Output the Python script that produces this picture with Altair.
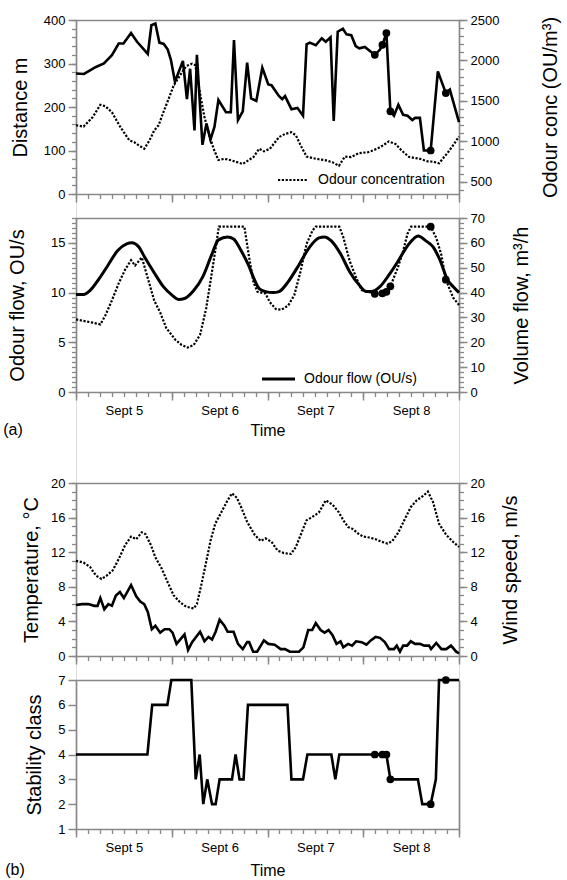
import altair as alt
import pandas as pd

# ---------------- data (hours after Sept 5, 00:00) ----------------
day_names = ["Sept 5", "Sept 6", "Sept 7", "Sept 8"]
panel_tags = ["(a)", "(b)"]

dist_h = [0, 2, 5, 7, 9, 10.7, 11.9, 13.8, 15.3, 18, 18.9, 19.9, 20.9, 22, 23, 23.8, 24.8, 26.8, 27.8, 28.6,
          29.7, 30.3, 31.7, 32.7, 33.7, 34.7, 35.7, 37.6, 38.8, 39.6, 40.6, 41.8, 42.9, 43.9, 45.2, 46.7, 48.2,
          49, 50.9, 51.7, 52.4, 54, 55.5, 56.9, 57.8, 58.6, 60.1, 61.6, 62.6, 63.8, 64.6, 65.6, 66.9, 67.8, 69,
          70.1, 71, 72.4, 73.5, 74.9, 76.2, 76.8, 77.8, 78.8, 79.7, 80.8, 82, 83.1, 84.3, 85, 86.2, 87.2, 88.9,
          90.7, 92.7, 93.7, 96]
dist_m = [277, 276, 292, 300, 319, 346, 346, 370, 350, 322, 388, 392, 348, 345, 332, 308, 258, 306, 218, 288,
          146, 320, 113, 162, 125, 154, 216, 188, 188, 354, 170, 190, 302, 220, 214, 290, 252,
          250, 225, 218, 225, 195, 198, 180, 344, 348, 342, 358, 350, 360, 168, 373, 380, 367, 365,
          340, 335, 338, 330, 320, 332, 343, 370, 190, 180, 205, 182, 180, 170, 175, 175, 100, 100,
          282, 232, 240, 165]

conc_h = [0, 1.9, 4.2, 6.1, 7.3, 9, 11.1, 13.4, 14.6, 15.7, 17.1, 18.4, 19.6, 20.7, 21.9, 23.4, 24.5, 26.1,
          27.6, 29.1, 29.9, 31.1, 32.2, 33.4, 34.5, 35.7, 37.2, 39.1, 41.8, 43.3, 44.5, 45.9, 47.1, 48.6, 50.9,
          52.4, 54, 55.1, 56.3, 57.8, 60.1, 62.4, 64.3, 65.9, 67.4, 68.9, 70.9, 73.2, 75.5, 77, 78.4, 80.1,
          81.6, 83.5, 86.2, 88.1, 89.5, 91, 93, 94.5, 96]
conc_ou = [1199, 1183, 1301, 1452, 1436, 1360, 1178, 1011, 990, 952, 909, 1011, 1135, 1199, 1360, 1549, 1694,
           1817, 1930, 1960, 1941, 1592, 1301, 1076, 909, 769, 785, 764, 720, 770, 807, 909, 877, 909, 1054,
           1092, 1113, 1076, 952, 812, 785, 769, 742, 699, 812, 807, 855, 866, 909, 952, 1000, 968,
           888, 807, 785, 753, 750, 730, 850, 950, 1060]

of_h = [0, 1.9, 3.5, 5.8, 8.1, 10.4, 12.7, 14, 15.7, 17.3, 19.6, 21.9, 24.2, 25.7, 27.2, 29.5, 31.8, 34.1,
        35.7, 38, 39.5, 41.4, 43.3, 44.6, 45.9, 47.5, 49.4, 50.9, 53.2, 55.9, 58.6, 60.9, 62.3, 64, 66.3,
        68.6, 70.9, 72.8, 74, 76.2, 78.5, 80.8, 83.1, 85.8, 87.7, 89.5, 91.2, 93.1, 94.5, 96]
of_ous = [9.8, 9.8, 10.2, 11.4, 12.8, 14.2, 14.9, 15.0, 14.6, 13.5, 12.0, 10.6, 9.7, 9.3, 9.4, 10.2, 11.6, 13.9,
          15.3, 15.6, 15.4, 14.2, 12.7, 11.4, 10.4, 10.1, 10.0, 10.1, 11.1, 12.8, 14.6, 15.5, 15.6, 15.2, 13.9,
          12.1, 10.8, 10.1, 10.1, 10.6, 11.8, 13.2, 14.7, 15.7, 15.2, 14.6, 13.3, 11.3, 10.6, 10.0]

vf_h = [0, 1.9, 4.2, 6.1, 7.3, 8.8, 10.7, 12.3, 13.8, 14.8, 16.5, 18, 19.6, 21.1, 22.6, 24.9, 26.5, 28, 29.5,
        31.1, 32.6, 33.7, 34.9, 35.8, 42.2, 43.3, 44.5, 45.5, 47.5, 48.6, 50.1, 51.5, 53.2, 54.7, 56.3, 57.8,
        59.3, 60.1, 66.0, 67, 68.6, 70.1, 71.6, 73.2, 74.9, 76.8, 77.8, 78.8, 80.8, 82, 83.1, 84.0, 88.9, 90.3,
        91.6, 92.7, 94.5, 96]
vf_m3h = [29.2, 28.6, 27.9, 27.2, 30.6, 36.1, 43.7, 49.2, 53.0, 50.9, 54.1, 45.8, 36.8, 32.0, 25.8, 21.0, 18.9,
          17.9, 18.9, 23.0, 33.4, 44.4, 56.8, 66.5, 66.5, 55.0, 44.0, 40.3, 39.6, 36.1, 33.4, 33.1, 34.8, 38.9,
          48.6, 59.6, 65.0, 66.5, 66.5, 62.3, 52.7, 46.5, 41.0, 40.3, 39.5, 39.7, 40.3, 42.5, 50.6, 56.8, 63.7,
          66.5, 66.5, 62.0, 55.0, 45.2, 38.0, 35.0]

temp_h = [0, 1.9, 3.5, 5, 6.4, 7.7, 9.2, 10.7, 12.3, 13.8, 15.1, 16.5, 17.4, 18.8, 19.9, 21.5, 23, 24.5, 26.1,
          27.6, 29.5, 30.3, 31.4, 32.6, 33.7, 34.9, 36.4, 38, 39.1, 40.3, 41.4, 42.9, 44.8, 46.3, 47.5, 49,
          50.5, 52.1, 53.9, 55.1, 56.4, 57.8, 59, 60.9, 62.6, 64.3, 65.9, 67, 68.2, 69.3, 70.9, 72, 73.5, 75.1,
          76.6, 78.1, 79.3, 80.8, 82.4, 83.9, 85.4, 87, 88.2, 89.5, 91, 92.8, 94.5, 96]
temp_c = [11.0, 10.8, 10.3, 9.3, 8.9, 9.3, 9.9, 11.2, 12.8, 13.8, 13.5, 14.3, 14.1, 12.8, 11.4, 10.1, 8.5, 7.0,
          6.2, 5.7, 5.5, 6.0, 8.2, 10.8, 13.3, 15.3, 16.6, 18.0, 18.8, 18.3, 17.2, 15.5, 14.0, 13.3, 13.6, 13.2,
          12.2, 11.9, 11.8, 12.6, 14.1, 15.7, 16.0, 16.6, 18.0, 17.5, 16.6, 15.7, 14.9, 14.7, 14.1, 13.8, 13.7,
          13.5, 13.2, 13.0, 13.3, 14.3, 15.8, 17.2, 18.0, 18.5, 19.0, 17.8, 15.3, 14.0, 13.2, 12.6]

wind_h = [0, 1.5, 3.1, 4.6, 5.4, 6.1, 7.1, 8.1, 9, 10, 11, 12, 13.8, 15.1, 16.1, 17.1, 18, 19, 19.9, 21.1, 22.2,
          23.4, 24.2, 25.2, 26.1, 27.2, 28.1, 29.1, 31.1, 32.2, 33.2, 34.1, 35, 36, 37.2, 38, 39.5, 40.6, 41.8,
          42.9, 43.4, 44.4, 45.4, 47.1, 48.2, 49.8, 51.3, 52.4, 53.6, 55.9, 57, 58.2, 59.2, 60.1, 61.3, 62.3,
          63.3, 64.3, 65.3, 66.3, 67, 68.2, 69.2, 70.2, 71.6, 72.8, 73.9, 75.1, 76.2, 77.4, 78.5, 79.7, 80.4,
          81.2, 82, 83, 83.9, 85, 86.2, 87.3, 88.5, 89, 90.3, 91.6, 92.8, 94, 95.3, 96]
wind_ms = [5.9, 6.0, 6.0, 5.8, 5.8, 6.7, 5.4, 6.0, 5.8, 7.0, 7.4, 6.7, 8.2, 6.9, 6.3, 6.0, 5.1, 3.1, 3.5, 2.7,
           3.1, 3.1, 2.7, 1.4, 1.9, 2.5, 0.7, 1.6, 2.8, 1.7, 2.2, 1.9, 2.8, 4.2, 3.5, 2.8, 2.8, 1.4, 0.8, 1.6,
           1.6, 0.5, 0.5, 1.8, 1.4, 1.3, 0.8, 0.8, 0.5, 0.5, 1.0, 3.0, 3.0, 3.8, 3.0, 2.7, 3.0, 2.4, 1.4, 1.7,
           1.0, 1.4, 1.2, 1.7, 1.6, 1.3, 1.8, 2.2, 2.1, 1.6, 0.8, 0.8, 1.2, 0.5, 1.2, 1.2, 1.7, 1.4, 1.4, 1.2,
           1.2, 0.8, 1.5, 0.8, 0.8, 1.2, 0.5, 0.3]

stab_h = [0, 17.9, 19.1, 22.9, 23.9, 28.9, 30, 31, 31.9, 32.9, 34.1, 35, 36, 39.1, 40, 41, 42, 43.1, 53, 54,
          56.9, 58, 64, 65, 66, 74.9, 76.8, 77.8, 78.8, 85.7, 86.8, 88.9, 90.2, 91, 92.7, 96]
stab_cls = [4, 4, 6, 6, 7, 7, 3, 4, 2, 3, 2, 2, 3, 3, 4, 3, 3, 6, 6, 3, 3, 4, 4, 3, 4, 4, 4, 4, 3, 3, 2, 2, 3,
            7, 7, 7]

dot_h = [74.9, 76.8, 77.8, 78.8, 88.9, 92.7]
dot_dist = [320, 343, 370, 190, 100, 232]
dot_vf = [39.5, 39.7, 40.3, 42.5, 66.5, 45.2]
dot_stab = [4, 4, 4, 3, 2, 7]

legend_a1 = "Odour concentration"
legend_a2 = "Odour flow  (OU/s)"

# ---------------- layout ----------------
FONT = "Liberation Sans"
W = 383
H = 809
P1 = (0, 174)
P2 = (198, 372)
P3 = (463, 636)
P4 = (660, 809)
DAY_TICKS = [0, 24, 48, 72, 96]
MINOR_X = list(range(0, 97, 3))
LABEL_X = [12, 36, 60, 84]
LABEL_EXPR = " : ".join(f"datum.value == {v} ? '{n}'" for v, n in zip(LABEL_X, day_names)) + " : ''"
DASH = [2.2, 1.6]


def frame(h, v):
    return pd.DataFrame({"h": h, "v": v})


def xsc():
    return alt.Scale(domain=[0, 96], nice=False, zero=False)


def ysc(dom, rng):
    return alt.Scale(domain=dom, range=[rng[1], rng[0]], nice=False, zero=False)


def ax_x_major(rng):
    return alt.Axis(orient="bottom", offset=-(H - rng[1]), values=DAY_TICKS, tickSize=8, tickWidth=1.5,
                    labels=False, domain=True, domainWidth=1.7, grid=False, title=None)


def ax_x_minor(rng):
    return alt.Axis(orient="bottom", offset=-(H - rng[1]), values=MINOR_X, tickSize=4.5, tickWidth=1.3,
                    labels=False, domain=False, grid=False, title=None)


def ax_x_top(rng):
    return alt.Axis(orient="top", offset=-rng[0], ticks=False, labels=False, domain=True, domainWidth=1.7,
                    grid=False, title=None)


def ax_x_labels(rng, title_y):
    return alt.Axis(orient="bottom", offset=-(H - rng[1]), values=LABEL_X, ticks=False, tickSize=0,
                    labelExpr=LABEL_EXPR, labelPadding=12, labelFontSize=13, labelFlush=False,
                    labelOverlap=False, domain=False, grid=False, title="Time", titleFontSize=16,
                    titleFontWeight="normal", titleX=W / 2, titleY=title_y, titleAlign="center",
                    titleBaseline="middle")


def ax_y_major(orient, values, title, title_x, rng):
    return alt.Axis(orient=orient, values=values, format="d", tickSize=8, tickWidth=1.5, labelFontSize=13,
                    labelPadding=3, labelFlush=False, labelOverlap=False, domain=True, domainWidth=1.7,
                    grid=False, title=title, titleFontSize=20, titleFontWeight="normal", titleAngle=270,
                    titleX=title_x, titleY=(rng[0] + rng[1]) / 2, titleAlign="center",
                    titleBaseline="middle")


def ax_y_minor(orient, values):
    return alt.Axis(orient=orient, values=values, tickSize=4.5, tickWidth=1.3, labels=False, domain=False,
                    grid=False, title=None)


def ax_y_frame(orient):
    return alt.Axis(orient=orient, ticks=False, labels=False, domain=True, domainWidth=1.7, grid=False,
                    title=None)


def series(df, dom, rng, xaxis, yaxis, dashed=False, width=2.6, visible=True, interp="linear"):
    kw = dict(color="black", strokeWidth=width, interpolate=interp, opacity=1 if visible else 0)
    if dashed:
        kw["strokeDash"] = DASH
    return alt.Chart(df).mark_line(**kw).encode(
        x=alt.X("h:Q", scale=xsc(), axis=xaxis),
        y=alt.Y("v:Q", scale=ysc(dom, rng), axis=yaxis),
    )


def dots(df, dom, rng):
    return alt.Chart(df).mark_circle(color="black", opacity=1, size=60).encode(
        x=alt.X("h:Q", scale=xsc(), axis=None),
        y=alt.Y("v:Q", scale=ysc(dom, rng), axis=None),
    )


def label(text, x, y, size, align="left"):
    return alt.Chart(pd.DataFrame({"t": [text]})).mark_text(
        font=FONT, fontSize=size, align=align, baseline="middle", color="black"
    ).encode(x=alt.value(x), y=alt.value(y), text="t:N")


def legend_line(x1, x2, y, dashed, width):
    kw = dict(color="black", strokeWidth=width)
    if dashed:
        kw["strokeDash"] = DASH
    return alt.Chart(pd.DataFrame({"k": [0]})).mark_rule(**kw).encode(
        x=alt.value(x1), x2=alt.value(x2), y=alt.value(y))


d_dist = frame(dist_h, dist_m)
d_conc = frame(conc_h, conc_ou)
d_of = frame(of_h, of_ous)
d_vf = frame(vf_h, vf_m3h)
d_temp = frame(temp_h, temp_c)
d_wind = frame(wind_h, wind_ms)
d_stab = frame(stab_h, stab_cls)

DIST_DOM, CONC_DOM = [0, 400], [350, 2500]
OF_DOM, VF_DOM = [0, 17.5], [0, 70]
T_DOM, WS_DOM = [0, 20], [0, 20]
ST_DOM = [1, 7]

layers = [
    # ---- panel 1
    series(d_dist, DIST_DOM, P1, ax_x_major(P1),
           ax_y_major("left", list(range(0, 401, 100)), "Distance  m", -56, P1), width=2.6),
    series(d_dist, DIST_DOM, P1, ax_x_minor(P1), ax_y_minor("left", list(range(0, 401, 20))), visible=False),
    series(d_conc, CONC_DOM, P1, ax_x_top(P1),
           ax_y_major("right", list(range(500, 2501, 500)), "Odour conc  (OU/m³)", 91, P1), dashed=True,
           width=2.2),
    series(d_conc, CONC_DOM, P1, None, ax_y_minor("right", list(range(400, 2501, 100))), visible=False),
    dots(frame(dot_h, dot_dist), DIST_DOM, P1),
    legend_line(202, 232, 160, True, 2.2),
    label(legend_a1, 242, 160, 14),
    # ---- panel 2
    series(d_of, OF_DOM, P2, ax_x_major(P2),
           ax_y_major("left", [0, 5, 10, 15], "Odour flow, OU/s", -59, P2), width=3, interp="monotone"),
    series(d_of, OF_DOM, P2, ax_x_minor(P2), ax_y_minor("left", [i * 0.5 for i in range(36)]), visible=False),
    series(d_vf, VF_DOM, P2, ax_x_top(P2),
           ax_y_major("right", list(range(0, 71, 10)), "Volume flow, m³/h", 62, P2), dashed=True, width=2.2),
    series(d_vf, VF_DOM, P2, ax_x_labels(P2, 38), ax_y_minor("right", list(range(0, 71, 2))), visible=False),
    dots(frame(dot_h, dot_vf), VF_DOM, P2),
    legend_line(186, 219, 359, False, 3),
    label(legend_a2, 228, 359, 14),
    label(panel_tags[0], -63, 410, 16, "center"),
    # ---- panel 3
    series(d_temp, T_DOM, P3, ax_x_major(P3),
           ax_y_major("left", list(range(0, 21, 4)), "Temperature,  °C", -45, P3), dashed=True, width=2.2),
    series(d_temp, T_DOM, P3, ax_x_minor(P3), ax_y_minor("left", list(range(0, 21))), visible=False),
    series(d_wind, WS_DOM, P3, ax_x_top(P3),
           ax_y_major("right", list(range(0, 21, 4)), "Wind speed,  m/s", 51, P3), width=2.6),
    series(d_wind, WS_DOM, P3, None, ax_y_minor("right", list(range(0, 21))), visible=False),
    # ---- panel 4
    series(d_stab, ST_DOM, P4, ax_x_major(P4),
           ax_y_major("left", list(range(1, 8)), "Stability class", -42, P4), width=2.6),
    series(d_stab, ST_DOM, P4, ax_x_minor(P4), ax_y_frame("right"), visible=False),
    series(d_stab, ST_DOM, P4, ax_x_top(P4), None, visible=False),
    series(d_stab, ST_DOM, P4, ax_x_labels(P4, 41), None, visible=False),
    dots(frame(dot_h, dot_stab), ST_DOM, P4),
    label(panel_tags[1], -61, 850, 16, "center"),
]

chart = (
    alt.layer(*layers)
    .resolve_scale(x="independent", y="independent")
    .resolve_axis(x="independent", y="independent")
    .properties(width=W, height=H, autosize=alt.AutoSizeParams(type="none"),
                padding={"left": 76, "top": 20, "right": 108, "bottom": 51})
    .configure_view(stroke=None)
    .configure_axis(labelFont=FONT, titleFont=FONT, labelColor="black", titleColor="black",
                    tickColor="black", domainColor="black", titleFontWeight="normal", domainCap="square")
    .configure(background="white")
)

chart.save("out.html", embed_options={"renderer": "svg", "actions": False})
